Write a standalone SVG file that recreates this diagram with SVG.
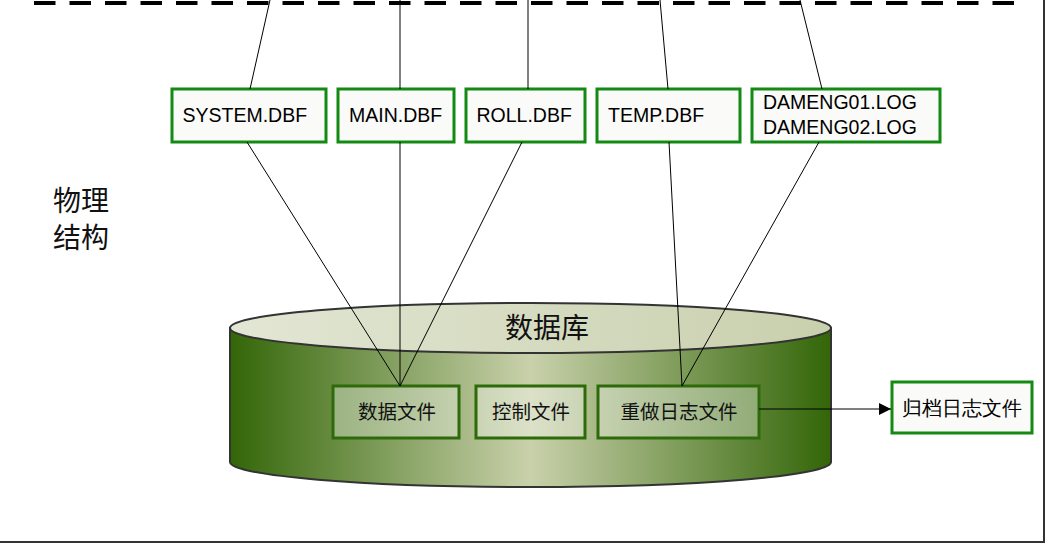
<svg xmlns="http://www.w3.org/2000/svg" width="1049" height="546" viewBox="0 0 1049 546">
<defs>
<linearGradient id="body" x1="0" y1="0" x2="1" y2="0">
<stop offset="0" stop-color="#336608"/>
<stop offset="0.5" stop-color="#c9d1ab"/>
<stop offset="1" stop-color="#336608"/>
</linearGradient>
<linearGradient id="top" x1="0" y1="0" x2="1" y2="0">
<stop offset="0" stop-color="#e2e6d4"/>
<stop offset="1" stop-color="#c9d0ad"/>
</linearGradient>
<marker id="arr" viewBox="0 0 10 10" refX="10" refY="5" markerWidth="18" markerHeight="12" markerUnits="userSpaceOnUse" orient="auto">
<path d="M0,0 L10,5 L0,10 Z" fill="#000"/>
</marker>
</defs>
<style>
.file rect{fill:#fafaf8;stroke:#138a13;stroke-width:3}
.file text{font-family:"Liberation Sans",Arial,sans-serif;font-size:19.5px;fill:#000}
.inner rect{fill:#ffffff;fill-opacity:0.35;stroke:#2f6a0a;stroke-width:3}
.cn{font-family:"Noto Sans CJK SC","Noto Sans CJK JP",sans-serif;fill:#111}
.conn line{stroke:#000;stroke-width:1}
</style>
<rect width="1049" height="546" fill="#fff"/>
<path d="M0,542 H1044 V0" fill="none" stroke="#333" stroke-width="2"/>
<line x1="34" y1="3" x2="1014" y2="3" stroke="#000" stroke-width="4" stroke-dasharray="21.5 14"/>
<text class="cn" x="53" y="211" font-size="28">物理</text>
<text class="cn" x="53" y="248" font-size="28">结构</text>
<g id="database">
<path d="M230,328 L230,462 A300.5,25 0 0 0 831,462 L831,328 Z" fill="url(#body)" stroke="#333" stroke-width="2"/>
<ellipse cx="530.5" cy="328" rx="300.5" ry="25" fill="url(#top)" stroke="#333" stroke-width="2"/>
<text class="cn" x="547" y="338" font-size="28" text-anchor="middle">数据库</text>
</g>
<g id="datafile" class="inner">
<rect x="333" y="386" width="126" height="52"/>
<text class="cn" x="397" y="419" font-size="19.5" text-anchor="middle">数据文件</text>
</g>
<g id="ctrlfile" class="inner">
<rect x="476" y="386" width="109" height="52"/>
<text class="cn" x="531" y="419" font-size="19.5" text-anchor="middle">控制文件</text>
</g>
<g id="redofile" class="inner">
<rect x="598" y="386" width="161" height="52"/>
<text class="cn" x="679" y="419" font-size="19.5" text-anchor="middle">重做日志文件</text>
</g>
<g id="system" class="file">
<rect x="172" y="89" width="154" height="53"/>
<text x="182.5" y="121.5">SYSTEM.DBF</text>
</g>
<g id="main" class="file">
<rect x="338" y="89" width="116" height="53"/>
<text x="349" y="121.5">MAIN.DBF</text>
</g>
<g id="roll" class="file">
<rect x="466" y="89" width="119" height="53"/>
<text x="476.5" y="121.5">ROLL.DBF</text>
</g>
<g id="temp" class="file">
<rect x="597" y="89" width="143" height="53"/>
<text x="608" y="121.5">TEMP.DBF</text>
</g>
<g id="dameng" class="file">
<rect x="752" y="89" width="188" height="53"/>
<text x="763" y="108.5">DAMENG01.LOG</text>
<text x="763" y="133.5">DAMENG02.LOG</text>
</g>
<g id="archive" class="file">
<rect x="892" y="382" width="140" height="51"/>
<text class="cn" x="962" y="415" font-size="19.5" text-anchor="middle">归档日志文件</text>
</g>
<g id="connectors" class="conn">
<line x1="270" y1="0" x2="250" y2="89"/>
<line x1="400" y1="0" x2="400" y2="89"/>
<line x1="528" y1="0" x2="528" y2="89"/>
<line x1="660" y1="0" x2="668" y2="89"/>
<line x1="800" y1="0" x2="822" y2="89"/>
<line x1="247" y1="142" x2="400" y2="386"/>
<line x1="400" y1="142" x2="400" y2="386"/>
<line x1="522" y1="142" x2="400" y2="386"/>
<line x1="669" y1="142" x2="682" y2="386"/>
<line x1="819" y1="142" x2="682" y2="386"/>
<line x1="759" y1="409" x2="891" y2="409" stroke="#222" marker-end="url(#arr)"/>
</g>
</svg>
